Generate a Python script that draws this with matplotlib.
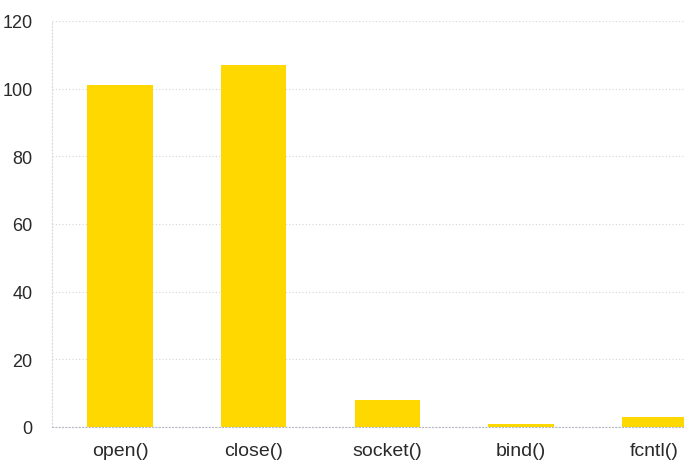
import matplotlib
matplotlib.use('Agg')
import matplotlib.pyplot as plt

calls = ['open()', 'close()', 'socket()', 'bind()', 'fcntl()']
counts = [101, 107, 8, 1, 3]
yticks = [0, 20, 40, 60, 80, 100, 120]

plt.rcParams['font.family'] = ['Liberation Sans', 'DejaVu Sans']

fig = plt.figure(figsize=(6.84, 4.64), dpi=100)
ax = fig.add_axes([52/684, 36/464, 1 - 52/684, (428 - 22)/464])

x = range(len(calls))
ax.bar(x, counts, width=0.49, color='#FFD800', zorder=2)

ax.set_xlim(-0.51, 4.22)
ax.set_ylim(0, 120)
ax.set_yticks(yticks)
ax.set_xticks(list(x))
ax.set_xticklabels(calls)
ax.tick_params(axis='both', length=0, colors='#2a2a2a')
ax.tick_params(axis='y', pad=14, labelsize=13)
ax.tick_params(axis='x', pad=11, labelsize=14)

ax.grid(axis='y', linestyle=(0, (1, 2)), color='#d4d4de', linewidth=0.8, zorder=0)
for s in ['top', 'right']:
    ax.spines[s].set_visible(False)
ax.spines['left'].set_linestyle((0, (1, 2)))
ax.spines['left'].set_color('#d8d8e2')
ax.spines['left'].set_linewidth(0.8)
ax.spines['bottom'].set_linestyle((0, (1, 2)))
ax.spines['bottom'].set_color('#b8b8c4')
ax.spines['bottom'].set_linewidth(0.8)

fig.savefig('out.png', dpi=100)
